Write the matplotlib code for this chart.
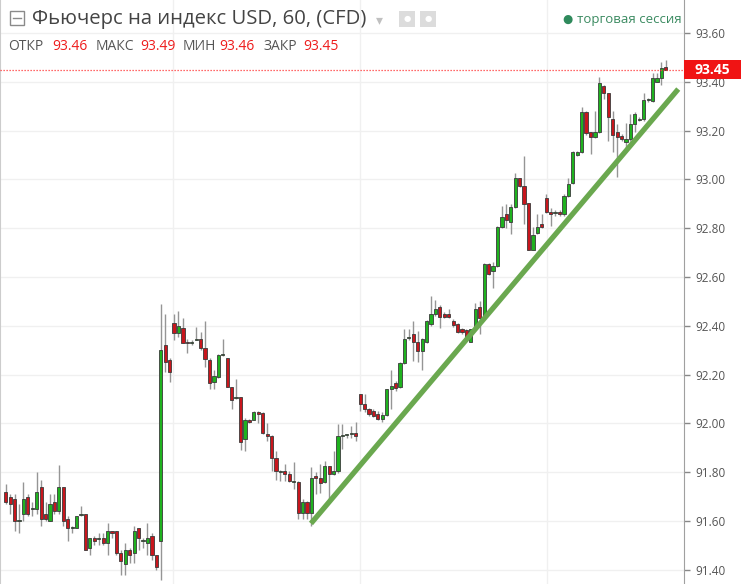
import matplotlib.pyplot as plt
import matplotlib.transforms as mtransforms
from matplotlib.patches import Rectangle

# OHLC of the hourly candles (oldest first)
opens = [
    91.72, 91.70, 91.69, 91.60, 91.63, 91.70, 91.65, 91.65, 91.74, 91.63,
    91.60, 91.68, 91.64, 91.74, 91.61, 91.57, 91.57, 91.625, 91.63, 91.49,
    91.53, 91.525, 91.53, 91.51, 91.56, 91.56, 91.47, 91.425, 91.48, 91.47,
    91.57, 91.52, 91.51, 91.54, 91.46, 91.52, 92.32, 92.26, 92.41, 92.37,
    92.39, 92.335, 92.33, 92.34, 92.345, 92.31, 92.26, 92.17, 92.19, 92.28,
    92.27, 92.15, 92.105, 92.11, 91.935, 92.016, 92.016, 92.048, 92.044, 91.958,
    91.948, 91.86, 91.80, 91.805, 91.794, 91.762, 91.76, 91.634, 91.68, 91.634,
    91.785, 91.775, 91.76, 91.825, 91.794, 91.805, 91.948, 91.952, 91.955, 91.962,
    92.12, 92.079, 92.059, 92.049, 92.038, 92.018, 92.035, 92.141, 92.164, 92.15,
    92.247, 92.35, 92.366, 92.332, 92.298, 92.332, 92.407, 92.448, 92.478, 92.448,
    92.448, 92.418, 92.407, 92.386, 92.382, 92.334, 92.386, 92.477, 92.433, 92.655,
    92.625, 92.645, 92.805, 92.857, 92.825, 92.887, 93.004, 92.973, 92.902, 92.709,
    92.782, 92.816, 92.922, 92.866, 92.862, 92.866, 92.857, 92.932, 92.984, 93.10,
    93.113, 93.277, 93.193, 93.172, 93.193, 93.384, 93.354, 93.247, 93.195, 93.176,
    93.152, 93.165, 93.227, 93.245, 93.247, 93.325, 93.322, 93.401, 93.414, 93.46,
]
highs = [
    91.75, 91.71, 91.71, 91.67, 91.76, 91.71, 91.68, 91.80, 91.77, 91.68,
    91.71, 91.71, 91.83, 91.74, 91.62, 91.58, 91.62, 91.66, 91.63, 91.53,
    91.54, 91.55, 91.55, 91.59, 91.56, 91.56, 91.48, 91.51, 91.49, 91.58,
    91.57, 91.53, 91.59, 91.55, 91.46, 92.49, 92.45, 92.27, 92.45, 92.46,
    92.43, 92.345, 92.34, 92.395, 92.375, 92.42, 92.27, 92.22, 92.285, 92.345,
    92.27, 92.15, 92.18, 92.11, 92.023, 92.02, 92.05, 92.05, 92.048, 92.003,
    91.952, 91.887, 91.81, 91.835, 91.805, 91.84, 91.764, 91.69, 91.682, 91.82,
    91.80, 91.832, 91.846, 91.825, 91.887, 91.996, 91.996, 91.958, 91.99, 92.007,
    92.12, 92.12, 92.065, 92.059, 92.052, 92.045, 92.141, 92.218, 92.175, 92.25,
    92.386, 92.386, 92.418, 92.38, 92.352, 92.423, 92.523, 92.505, 92.486, 92.455,
    92.468, 92.427, 92.41, 92.393, 92.386, 92.386, 92.495, 92.502, 92.659, 92.659,
    92.663, 92.809, 92.891, 92.90, 92.90, 93.027, 93.004, 93.096, 92.904, 92.805,
    92.857, 92.857, 92.939, 92.884, 92.873, 92.873, 92.939, 93.004, 93.117, 93.117,
    93.295, 93.281, 93.195, 93.281, 93.418, 93.386, 93.354, 93.281, 93.227, 93.186,
    93.233, 93.268, 93.277, 93.254, 93.354, 93.332, 93.435, 93.435, 93.479, 93.49,
]
lows = [
    91.67, 91.63, 91.56, 91.55, 91.60, 91.62, 91.62, 91.63, 91.58, 91.60,
    91.60, 91.63, 91.63, 91.58, 91.52, 91.55, 91.57, 91.62, 91.48, 91.46,
    91.50, 91.50, 91.50, 91.46, 91.53, 91.46, 91.38, 91.38, 91.43, 91.43,
    91.48, 91.49, 91.46, 91.44, 91.40, 91.36, 92.21, 92.17, 92.34, 92.355,
    92.33, 92.29, 92.32, 92.34, 92.30, 92.23, 92.14, 92.14, 92.185, 92.275,
    92.15, 92.06, 92.10, 91.89, 91.887, 92.003, 92.012, 92.003, 91.958, 91.928,
    91.805, 91.77, 91.764, 91.764, 91.76, 91.73, 91.607, 91.607, 91.607, 91.58,
    91.71, 91.716, 91.757, 91.68, 91.79, 91.798, 91.894, 91.94, 91.94, 91.928,
    92.049, 92.045, 92.031, 92.025, 92.014, 92.004, 92.031, 92.059, 92.134, 92.147,
    92.243, 92.341, 92.257, 92.25, 92.218, 92.328, 92.40, 92.441, 92.393, 92.431,
    92.431, 92.396, 92.369, 92.366, 92.341, 92.332, 92.382, 92.368, 92.43, 92.61,
    92.556, 92.641, 92.80, 92.80, 92.775, 92.884, 92.969, 92.818, 92.709, 92.709,
    92.777, 92.80, 92.863, 92.809, 92.85, 92.85, 92.85, 92.928, 92.981, 93.097,
    93.108, 93.182, 93.104, 93.168, 93.19, 93.329, 93.158, 93.111, 93.008, 93.158,
    93.111, 93.158, 93.193, 93.24, 93.24, 93.318, 93.318, 93.397, 93.386, 93.45,
]
closes = [
    91.68, 91.67, 91.60, 91.605, 91.69, 91.63, 91.655, 91.72, 91.61, 91.61,
    91.67, 91.64, 91.74, 91.60, 91.57, 91.572, 91.62, 91.63, 91.48, 91.53,
    91.52, 91.53, 91.51, 91.56, 91.55, 91.47, 91.435, 91.48, 91.46, 91.56,
    91.53, 91.522, 91.53, 91.46, 91.41, 92.30, 92.25, 92.21, 92.37, 92.40,
    92.33, 92.33, 92.335, 92.345, 92.31, 92.265, 92.165, 92.195, 92.28, 92.283,
    92.15, 92.095, 92.11, 91.925, 92.016, 92.007, 92.048, 92.037, 91.962, 91.948,
    91.86, 91.805, 91.803, 91.794, 91.764, 91.766, 91.634, 91.68, 91.634, 91.775,
    91.775, 91.757, 91.825, 91.794, 91.805, 91.948, 91.95, 91.955, 91.962, 91.948,
    92.079, 92.059, 92.038, 92.031, 92.018, 92.035, 92.141, 92.154, 92.145, 92.247,
    92.345, 92.353, 92.332, 92.295, 92.345, 92.418, 92.448, 92.468, 92.437, 92.437,
    92.437, 92.404, 92.373, 92.373, 92.345, 92.386, 92.468, 92.433, 92.655, 92.614,
    92.645, 92.805, 92.846, 92.833, 92.887, 93.004, 92.973, 92.90, 92.709, 92.772,
    92.805, 92.805, 92.866, 92.857, 92.864, 92.857, 92.932, 92.982, 93.113, 93.113,
    93.277, 93.19, 93.172, 93.193, 93.395, 93.354, 93.254, 93.182, 93.172, 93.165,
    93.165, 93.227, 93.268, 93.248, 93.326, 93.328, 93.415, 93.415, 93.455, 93.45,
]

price_ticks = [91.40, 91.60, 91.80, 92.00, 92.20, 92.40, 92.60, 92.80, 93.00, 93.20, 93.40, 93.60]
last_price = 93.45
day_breaks = [37.8, 80.0, 122.2]          # vertical session lines (candle index)
trend_x = [68.9, 151.8]                   # hand-drawn trend line
trend_y = [91.59, 93.37]

title = "Фьючерс на индекс USD, 60, (CFD)"
ohlc_labels = ["ОТКР", "МАКС", "МИН", "ЗАКР"]
ohlc_values = ["93.46", "93.49", "93.46", "93.45"]
session_text = "торговая сессия"

plt.rcParams['font.family'] = ['Open Sans', 'DejaVu Sans']

W, H = 741, 584
fig = plt.figure(figsize=(W / 100, H / 100), dpi=100)
ax = fig.add_axes([0, 0, 684 / W, 1])

GREEN = '#1fb21f'
RED = '#c8161d'
EDGE = '#3a3a3a'

# grid
for p in price_ticks:
    ax.axhline(p, color='#f0f0f0', lw=1, zorder=0)
for d in day_breaks:
    ax.axvline(d, color='#f0f0f0', lw=1, zorder=0)

# candles
idx = list(range(len(opens)))
ax.vlines(idx, lows, highs, color='#959595', lw=1, zorder=2)
bottoms = [min(o, c) for o, c in zip(opens, closes)]
heights = [max(abs(c - o), 0.004) for o, c in zip(opens, closes)]
colors = [GREEN if c >= o else RED for o, c in zip(opens, closes)]
ax.bar(idx, heights, bottom=bottoms, width=0.72, color=colors,
       edgecolor=EDGE, linewidth=0.6, zorder=3)

# trend line
ax.plot(trend_x, trend_y, color='#6aa84f', lw=3.8, solid_capstyle='butt', zorder=4)

# last price line
ax.axhline(last_price, color='#ff3b3b', lw=0.9, linestyle=(0, (1, 1.4)), zorder=5)

ax.set_xlim(-1.29, 153.1)
ax.set_ylim(91.342, 93.735)
ax.set_xticks([])
ax.set_yticks(price_ticks)
ax.set_yticklabels([f"{p:.2f}" for p in price_ticks])
ax.yaxis.tick_right()
ax.tick_params(axis='y', length=4, width=1, color='#888888', labelcolor='#555555',
               labelsize=8.5, pad=4)
for s in ['top', 'bottom']:
    ax.spines[s].set_visible(False)
ax.spines['right'].set_color('#a0a0a0')
ax.spines['left'].set_color('#cccccc')

# last price badge
blend = mtransforms.blended_transform_factory(fig.transFigure, ax.transData)
fig.add_artist(Rectangle((684 / W, last_price - 0.04), 57 / W, 0.08,
                         transform=blend, fc='#f01414', ec='none', zorder=10))
fig.text(712 / W, last_price, f"{last_price:.2f}", transform=blend,
         color='white', fontsize=10, fontweight='bold', ha='center', va='center', zorder=11)


def fx(x):
    return x / W


def fy(y):
    return 1 - y / H


# header
fig.add_artist(Rectangle((fx(10), fy(25)), 14 / W, 14 / H, transform=fig.transFigure,
                         fill=False, ec='#8a8a8a', lw=1))
fig.add_artist(plt.Line2D([fx(13), fx(21)], [fy(18), fy(18)], transform=fig.transFigure,
                          color='#8a8a8a', lw=1))
fig.text(fx(32), fy(19), title, fontsize=14.6, color='#444444', va='center', ha='left')
fig.text(fx(376), fy(20), "▾", fontsize=10, color='#c0c0c0', va='center', ha='left',
         family='DejaVu Sans')
for x0 in [399, 420]:
    fig.add_artist(Rectangle((fx(x0), fy(27)), 16 / W, 16 / H, transform=fig.transFigure,
                             fc='#dcdcdc', ec='none'))
    fig.text(fx(x0 + 8), fy(19), "●", fontsize=6, color='white', ha='center', va='center',
             family='DejaVu Sans')

fig.text(fx(562), fy(19), "●", fontsize=8.5, color='#2f8a5c', va='center', ha='left',
         family='DejaVu Sans')
fig.text(fx(577), fy(19), session_text, fontsize=9.5, color='#3a8a60', va='center', ha='left')

label_x = [8, 96, 183, 264]
value_x = [52, 140, 219, 303]
for lab, val, lx, vx in zip(ohlc_labels, ohlc_values, label_x, value_x):
    fig.text(fx(lx), fy(46), lab, fontsize=10, color='#555555', va='center', ha='left')
    fig.text(fx(vx), fy(46), val, fontsize=10, color='#ee1c1c', va='center', ha='left')

fig.savefig("out.png", dpi=100)
plt.close(fig)
